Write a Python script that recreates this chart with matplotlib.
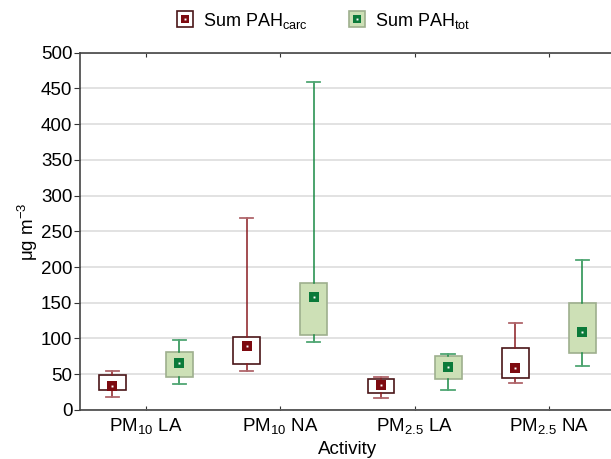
import matplotlib
matplotlib.use("Agg")
import matplotlib.pyplot as plt
from matplotlib.lines import Line2D

plt.rcParams['font.family'] = ['Liberation Sans', 'DejaVu Sans']
plt.rcParams['mathtext.fontset'] = 'custom'
plt.rcParams['mathtext.rm'] = 'Liberation Sans'

# Data (ug m-3)
categories = [r"PM$_{\mathregular{10}}$ LA", r"PM$_{\mathregular{10}}$ NA",
              r"PM$_{\mathregular{2.5}}$ LA", r"PM$_{\mathregular{2.5}}$ NA"]
carc_whislo = [18, 55, 17, 37]
carc_q1 = [28, 64, 24, 44]
carc_mid = [33, 90, 35, 59]
carc_q3 = [49, 102, 43, 86]
carc_whishi = [55, 268, 46, 121]

tot_whislo = [36, 95, 28, 62]
tot_q1 = [46, 105, 43, 80]
tot_mid = [66, 158, 60, 109]
tot_q3 = [81, 178, 76, 149]
tot_whishi = [98, 459, 78, 210]

series_labels = [r"Sum PAH$_{\mathregular{carc}}$", r"Sum PAH$_{\mathregular{tot}}$"]

# colours
carc_edge = "#4a1518"
carc_whisk = "#8a1c22"
carc_mark = "#7d0a10"
tot_face = "#cde0b6"
tot_edge = "#9eaf8e"
tot_whisk = "#1a8a45"
tot_mark = "#0b7a3a"

FS = 13.5

fig = plt.figure(figsize=(6.11, 4.59), dpi=100)
ax = fig.add_axes([0.131, 0.107, 0.875, 0.778])

def make_stats(lo, q1, mid, q3, hi):
    return [dict(whislo=a, q1=b, med=c, q3=d, whishi=e, fliers=[])
            for a, b, c, d, e in zip(lo, q1, mid, q3, hi)]

pos = list(range(len(categories)))
off = 0.25
w = 0.2

ax.bxp(make_stats(carc_whislo, carc_q1, carc_mid, carc_q3, carc_whishi),
       positions=[p - off for p in pos], widths=w, patch_artist=True,
       showfliers=False, manage_ticks=False,
       boxprops=dict(facecolor="white", edgecolor=carc_edge, linewidth=1.2),
       whiskerprops=dict(color=carc_whisk, linewidth=1.1),
       capprops=dict(color="#b0666b", linewidth=1.3),
       medianprops=dict(visible=False), capwidths=0.1)
ax.bxp(make_stats(tot_whislo, tot_q1, tot_mid, tot_q3, tot_whishi),
       positions=[p + off for p in pos], widths=w, patch_artist=True,
       showfliers=False, manage_ticks=False,
       boxprops=dict(facecolor=tot_face, edgecolor=tot_edge, linewidth=1.2),
       whiskerprops=dict(color=tot_whisk, linewidth=1.1),
       capprops=dict(color="#4fa673", linewidth=1.3),
       medianprops=dict(visible=False), capwidths=0.1)

ax.plot([p - off for p in pos], carc_mid, ls="none", marker="s", ms=6.5,
        mfc=carc_mark, mec=carc_mark, mew=0, zorder=5)
ax.plot([p + off for p in pos], tot_mid, ls="none", marker="s", ms=6.5,
        mfc=tot_mark, mec=tot_mark, mew=0, zorder=5)
ax.plot([p - off for p in pos] + [p + off for p in pos], carc_mid + tot_mid,
        ls="none", marker="s", ms=1.4, mfc="white", mew=0, zorder=6)

ax.set_xlim(-0.49, 3.49)
ax.set_ylim(0, 500)
ax.set_yticks(range(0, 501, 50))
ax.set_xticks(pos)
ax.set_xticklabels(categories)
ax.yaxis.grid(True, color="#e2e2e2", linewidth=1.4)
ax.set_axisbelow(True)
ax.tick_params(axis="x", direction="in", top=True, length=3, labelsize=FS,
               color="#333333", pad=5)
ax.tick_params(axis="y", direction="out", length=4, labelsize=FS,
               color="#333333", pad=1.5)
for s in ["left", "bottom", "top"]:
    ax.spines[s].set_color("#444444")
    ax.spines[s].set_linewidth(1.2)
ax.spines["right"].set_visible(False)

ax.set_xlabel("Activity", fontsize=FS, labelpad=3)
ax.set_ylabel(r"μg m$^{\mathregular{-3}}$", fontsize=FS, labelpad=0.5)

h1 = (Line2D([], [], ls="none", marker="s", ms=12, mfc="white", mec=carc_edge, mew=1.2),
      Line2D([], [], ls="none", marker="s", ms=5.5, mfc=carc_mark, mew=0),
      Line2D([], [], ls="none", marker="s", ms=1.4, mfc="white", mew=0))
h2 = (Line2D([], [], ls="none", marker="s", ms=12, mfc=tot_face, mec=tot_edge, mew=1.2),
      Line2D([], [], ls="none", marker="s", ms=5.5, mfc=tot_mark, mew=0),
      Line2D([], [], ls="none", marker="s", ms=1.4, mfc="white", mew=0))
fig.legend([h1, h2], series_labels, loc="center", bbox_to_anchor=(0.529, 0.955),
           ncol=2, frameon=False, fontsize=13, handlelength=1.0,
           handletextpad=0.5, columnspacing=2.2)

fig.savefig("out.png", dpi=100)
